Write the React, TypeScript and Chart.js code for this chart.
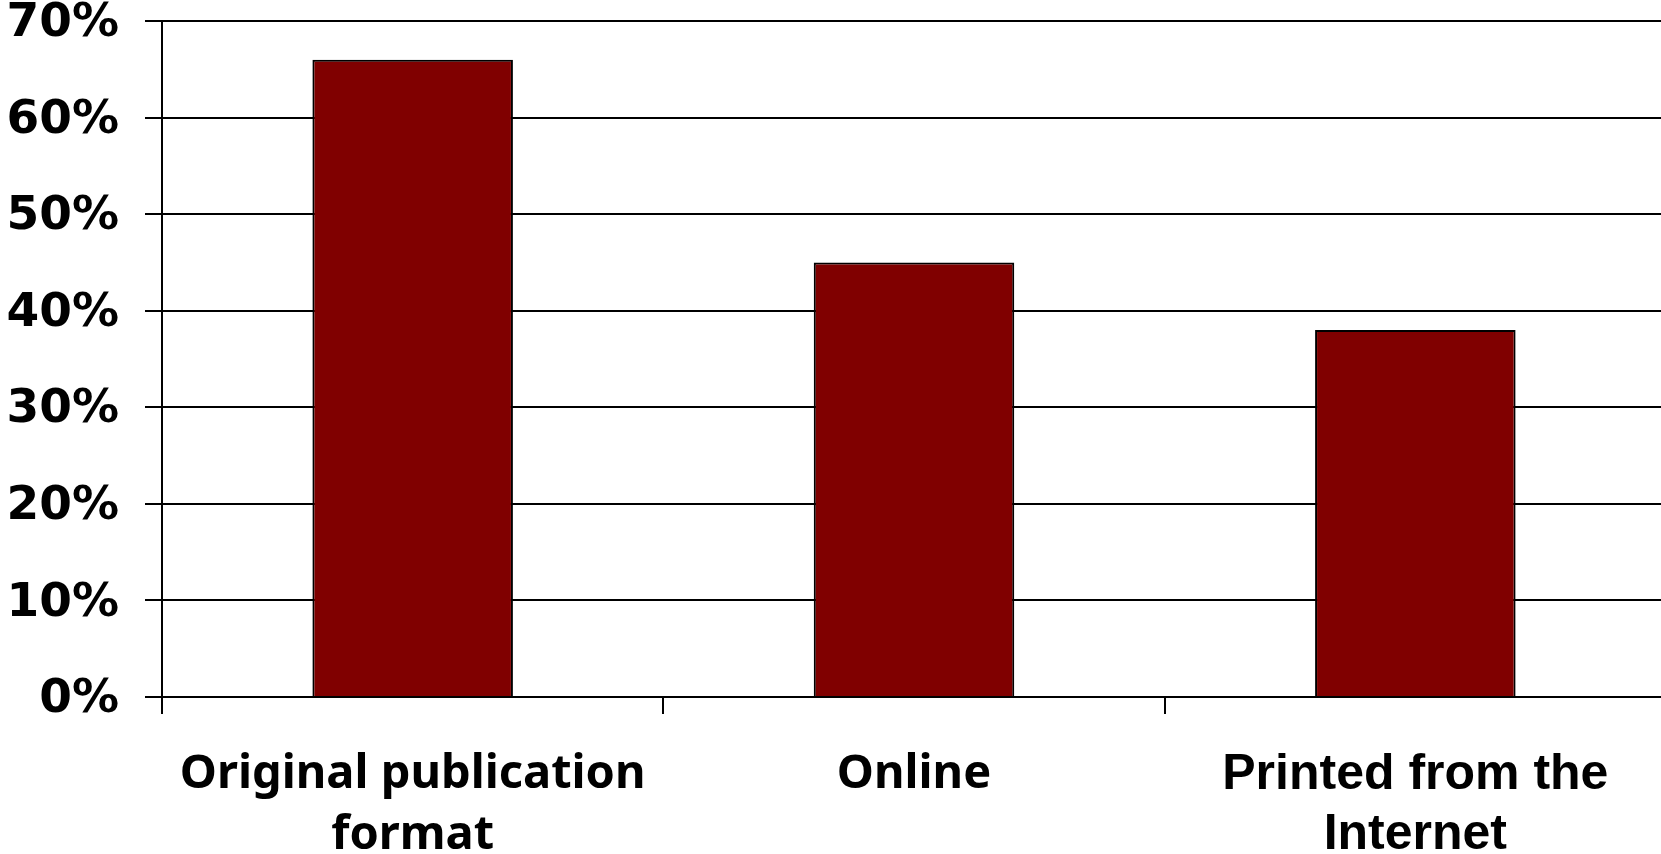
import React, { useEffect, useRef } from "react";
import { Chart, registerables } from "chart.js";

Chart.register(...registerables);

const categories: (string | string[])[] = [
  ["Original publication", "format"],
  "Online",
  ["Printed from the", "Internet"],
];
const shares: number[] = [66, 45, 38];
const yTickValues: number[] = [0, 10, 20, 30, 40, 50, 60, 70];

const W = 1661;
const H = 854;
// the plot runs a few pixels past the visible right edge
const CANVAS_W = 1666;
const AXIS_LEFT = 162;
const PLOT_TOP = 21;
const PLOT_BOTTOM = 697;

const labelFont = (index: number) =>
  index === 2
    ? { family: "Liberation Sans", weight: "bold" as const, size: 50, lineHeight: 1.2 }
    : { family: "Noto Sans", weight: "bold" as const, size: 47, lineHeight: 1.28 };

export default function App() {
  const ref = useRef<HTMLCanvasElement | null>(null);

  useEffect(() => {
    if (!ref.current) return;
    const chart = new Chart(ref.current, {
      type: "bar",
      data: {
        labels: categories,
        datasets: [
          {
            data: shares,
            backgroundColor: "#800000",
            borderColor: "#000000",
            borderWidth: 2,
            barPercentage: 0.4,
            categoryPercentage: 1,
          },
        ],
      },
      options: {
        responsive: false,
        animation: false,
        layout: { padding: { top: PLOT_TOP, right: 0, left: 0, bottom: 0 } },
        plugins: { legend: { display: false }, tooltip: { enabled: false } },
        scales: {
          x: {
            grid: {
              offset: true,
              drawOnChartArea: false,
              drawTicks: true,
              tickLength: 17,
              color: "#000000",
              lineWidth: 2,
            },
            border: { display: true, color: "#000000", width: 2 },
            ticks: {
              color: "#000000",
              padding: 31,
              maxRotation: 0,
              autoSkip: false,
              font: (ctx: any) => labelFont(ctx.index),
            },
            afterFit: (scale: any) => {
              scale.height = H - PLOT_BOTTOM;
              scale.paddingLeft = 0;
              scale.paddingRight = 0;
            },
          },
          y: {
            min: 0,
            max: 70,
            afterBuildTicks: (scale: any) => {
              scale.ticks = yTickValues.map((v) => ({ value: v }));
            },
            grid: {
              color: "#000000",
              lineWidth: 2,
              tickLength: 17,
            },
            border: { display: true, color: "#000000", width: 2 },
            ticks: {
              color: "#000000",
              padding: 26,
              labelOffset: 3,
              font: { family: "DejaVu Sans", weight: "bold", size: 47 },
              callback: (v: any) => `${v}%`,
            },
            afterFit: (scale: any) => {
              scale.width = AXIS_LEFT;
              scale.paddingTop = 0;
              scale.paddingBottom = 0;
            },
          },
        },
      },
    });
    return () => chart.destroy();
  }, []);

  return (
    <div
      style={{
        position: "fixed",
        left: 0,
        top: 0,
        width: W,
        height: H,
        overflow: "hidden",
        background: "#ffffff",
      }}
    >
      <canvas ref={ref} width={CANVAS_W} height={H} style={{ display: "block" }} />
    </div>
  );
}
